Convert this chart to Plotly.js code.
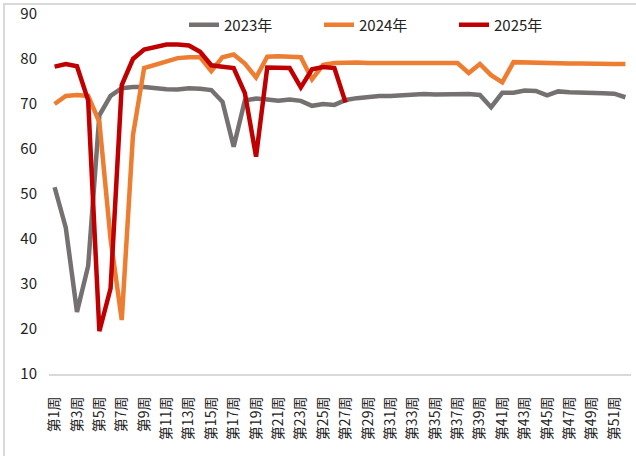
<!DOCTYPE html>
<html>
<head>
<meta charset="utf-8">
<script src="https://cdn.plot.ly/plotly-3.0.1.min.js"></script>
<style>
html,body{margin:0;padding:0;background:#fff;}
#chart{width:636px;height:456px;}
</style>
</head>
<body>
<div id="chart"></div>
<script>
var weeks = ["第1周","第2周","第3周","第4周","第5周","第6周","第7周","第8周","第9周","第10周",
  "第11周","第12周","第13周","第14周","第15周","第16周","第17周","第18周","第19周","第20周",
  "第21周","第22周","第23周","第24周","第25周","第26周","第27周","第28周","第29周","第30周",
  "第31周","第32周","第33周","第34周","第35周","第36周","第37周","第38周","第39周","第40周",
  "第41周","第42周","第43周","第44周","第45周","第46周","第47周","第48周","第49周","第50周",
  "第51周","第52周"];
var tickWeeks = ["第1周","第3周","第5周","第7周","第9周","第11周","第13周","第15周","第17周","第19周",
  "第21周","第23周","第25周","第27周","第29周","第31周","第33周","第35周","第37周","第39周",
  "第41周","第43周","第45周","第47周","第49周","第51周"];
var seriesNames = ["2023年","2024年","2025年"];
var y2023 = [51.5,42.5,23.8,34,67.5,71.8,73.5,73.8,73.8,73.5,
  73.3,73.2,73.5,73.4,73.1,70.5,60.5,70.8,71.2,71.0,
  70.7,71.0,70.7,69.6,70.0,69.8,70.9,71.3,71.6,71.8,
  71.8,72.0,72.1,72.2,72.1,72.2,72.3,72.2,72.0,69.3,
  72.5,72.5,73.0,72.9,71.9,72.8,72.6,72.6,72.5,72.4,
  72.3,71.5];
var y2024 = [70.0,71.8,72.0,71.8,66.0,40.0,22.0,63.0,78.0,78.7,
  79.6,80.2,80.4,80.4,77.3,80.4,81.0,79.0,75.9,80.5,
  80.6,80.4,80.4,75.5,78.7,79.1,79.2,79.2,79.1,79.1,
  79.2,79.1,79.1,79.0,79.0,79.0,79.1,76.9,78.9,76.4,
  74.8,79.3,79.2,79.1,79.0,79.0,79.0,79.0,78.9,78.9,
  78.9,78.9];
var y2025 = [78.3,78.9,78.4,70.8,19.5,29.0,74.2,80.0,82.1,82.7,
  83.2,83.2,83.0,81.6,78.6,78.3,78.0,72.4,58.3,78.1,
  78.1,78.0,73.7,77.7,78.2,78.0,70.3];
var colors = ["#767171","#ED7D31","#C00000"];

var traces = [y2023, y2024, y2025].map(function(ys, i){
  return {
    type: "scatter", mode: "lines",
    x: weeks.slice(0, ys.length), y: ys,
    name: seriesNames[i],
    line: {color: colors[i], width: 4.5},
    hoverinfo: "x+y+name"
  };
});

var L = 49, R = 5, T = 14, B = 82, W = 636, H = 456;
var pw = W - L - R, ph = H - T - B;
function px2x(p){ return (p - L) / pw; }
function py2y(p){ return (H - B - p) / ph; }

var layout = {
  width: W, height: H,
  margin: {l: L, r: R, t: T, b: B, pad: 0},
  paper_bgcolor: "#fff", plot_bgcolor: "#fff",
  font: {family: "'Noto Sans CJK SC', 'Noto Sans', sans-serif", color: "#222"},
  showlegend: true,
  legend: {
    orientation: "h", x: px2x(184), xanchor: "left", y: 1.015, yanchor: "top",
    font: {size: 15, color: "#222"}, bgcolor: "rgba(0,0,0,0)",
    entrywidth: 90, entrywidthmode: "pixels", tracegroupgap: 0
  },
  xaxis: {
    type: "category", categoryorder: "array", categoryarray: weeks,
    range: [-0.5, weeks.length - 0.5],
    tickmode: "array", tickvals: tickWeeks, ticktext: tickWeeks,
    tickangle: -90, tickfont: {size: 14, color: "#222"},
    ticks: "outside", ticklen: 15, tickcolor: "rgba(0,0,0,0)",
    showline: true, linecolor: "#d9d9d9", linewidth: 2,
    showgrid: false, zeroline: false, fixedrange: true
  },
  yaxis: {
    range: [10, 90], tickvals: [10,20,30,40,50,60,70,80,90],
    tickfont: {size: 15, color: "#222"},
    ticks: "outside", ticklen: 8, tickcolor: "rgba(0,0,0,0)",
    showline: false, showgrid: false, zeroline: false, fixedrange: true
  },
  shapes: [{
    type: "path", xref: "paper", yref: "paper",
    path: "M " + px2x(4) + " " + py2y(470) + " L " + px2x(4) + " " + py2y(4) +
          " L " + px2x(650) + " " + py2y(4),
    line: {color: "#d9d9d9", width: 2}, layer: "below"
  }]
};

Plotly.newPlot("chart", traces, layout, {displayModeBar: false, staticPlot: true});
</script>
</body>
</html>
